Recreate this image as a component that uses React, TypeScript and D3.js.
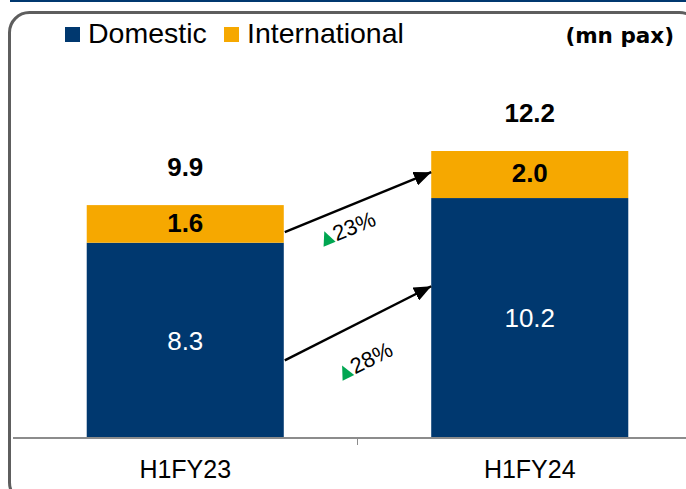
import { useEffect, useRef } from 'react';
import * as d3 from 'd3';

const periods = ['H1FY23', 'H1FY24'];
const domestic = [8.3, 10.2];
const international = [1.6, 2.0];
const totals = [9.9, 12.2];
const growthLabels = ['23%', '28%'];
// arrow ends in value units (from H1FY23 bar to H1FY24 bar)
const arrowFrom = [8.75, 3.3];
const arrowTo = [11.3, 6.45];
// growth label anchors: fraction of the gap between bars, value units
const labelAt = [0.265, 0.395];
const labelValue = [8.13, 2.43];

const W = 686;
const H = 489;
const NAVY = '#00386F';
const ORANGE = '#F6A800';

export default function App() {
  const svgRef = useRef<SVGSVGElement>(null);

  useEffect(() => {
    if (!svgRef.current) return;
    const svg = d3.select(svgRef.current);
    svg.selectAll('*').remove();

    const baseY = 438;
    const x = d3.scaleBand().domain(periods).range([13, 702]).paddingInner(0.428).paddingOuter(0.214);
    const y = d3.scaleLinear().domain([0, 12.2]).range([baseY, 151]);

    svg.append('defs')
      .append('marker')
      .attr('id', 'head')
      .attr('viewBox', '0 0 12 10')
      .attr('refX', 12)
      .attr('refY', 5)
      .attr('markerWidth', 7.2)
      .attr('markerHeight', 6)
      .attr('markerUnits', 'strokeWidth')
      .attr('orient', 'auto')
      .append('path')
      .attr('d', 'M0,0 L12,5 L0,10 Z')
      .attr('fill', '#000');

    // top rule and frame
    svg.append('rect').attr('x', 10).attr('y', 0).attr('width', W - 10).attr('height', 2).attr('fill', NAVY);
    svg.append('rect')
      .attr('x', 9.5).attr('y', 12.5)
      .attr('width', 690).attr('height', 490)
      .attr('rx', 20).attr('ry', 20)
      .attr('fill', 'none').attr('stroke', '#5E5E5E').attr('stroke-width', 3);

    // legend
    const legend = [
      { name: 'Domestic', color: NAVY, x: 65 },
      { name: 'International', color: ORANGE, x: 224 },
    ];
    const lg = svg.selectAll('.legend').data(legend).enter().append('g');
    lg.append('rect').attr('x', (d) => d.x).attr('y', 27).attr('width', 15).attr('height', 15).attr('fill', (d) => d.color);
    lg.append('text')
      .attr('x', (d) => d.x + 23)
      .attr('y', 43)
      .attr('font-family', 'Liberation Sans, Arial, sans-serif')
      .attr('font-size', 28.5)
      .attr('fill', '#000')
      .text((d) => d.name);

    svg.append('text')
      .attr('x', 674).attr('y', 43)
      .attr('text-anchor', 'end')
      .attr('font-family', 'DejaVu Sans, Verdana, sans-serif')
      .attr('font-weight', 'bold')
      .attr('font-size', 21.5)
      .text('(mn pax)');

    // bars
    const bw = x.bandwidth();
    const g = svg.append('g');
    g.selectAll('.dom').data(periods).enter().append('rect')
      .attr('x', (d) => x(d)!)
      .attr('y', (_, i) => y(domestic[i]))
      .attr('width', bw)
      .attr('height', (_, i) => baseY - y(domestic[i]))
      .attr('fill', NAVY);
    g.selectAll('.intl').data(periods).enter().append('rect')
      .attr('x', (d) => x(d)!)
      .attr('y', (_, i) => y(domestic[i] + international[i]))
      .attr('width', bw)
      .attr('height', (_, i) => y(domestic[i]) - y(domestic[i] + international[i]))
      .attr('fill', ORANGE);

    const font = 'Liberation Sans, Arial, sans-serif';
    g.selectAll('.domLbl').data(periods).enter().append('text')
      .attr('x', (d) => x(d)! + bw / 2)
      .attr('y', (_, i) => (y(domestic[i]) + baseY) / 2)
      .attr('dy', '0.36em')
      .attr('text-anchor', 'middle')
      .attr('font-family', font).attr('font-size', 26).attr('fill', '#fff')
      .text((_, i) => domestic[i].toFixed(1));
    g.selectAll('.intlLbl').data(periods).enter().append('text')
      .attr('x', (d) => x(d)! + bw / 2)
      .attr('y', (_, i) => (y(domestic[i]) + y(domestic[i] + international[i])) / 2)
      .attr('dy', '0.3em')
      .attr('text-anchor', 'middle')
      .attr('font-family', font).attr('font-size', 26).attr('font-weight', 'bold').attr('fill', '#000')
      .text((_, i) => international[i].toFixed(1));
    g.selectAll('.totLbl').data(periods).enter().append('text')
      .attr('x', (d) => x(d)! + bw / 2)
      .attr('y', (_, i) => y(totals[i]) - 29)
      .attr('text-anchor', 'middle')
      .attr('font-family', font).attr('font-size', 26).attr('font-weight', 'bold').attr('fill', '#000')
      .text((_, i) => totals[i].toFixed(1));

    // axis
    svg.append('line').attr('x1', 13).attr('x2', W).attr('y1', baseY).attr('y2', baseY)
      .attr('stroke', '#8C8C8C').attr('stroke-width', 2);
    const mid = (x(periods[0])! + bw + x(periods[1])!) / 2;
    svg.append('line').attr('x1', mid).attr('x2', mid).attr('y1', baseY).attr('y2', baseY + 7)
      .attr('stroke', '#8C8C8C').attr('stroke-width', 1);
    svg.selectAll('.cat').data(periods).enter().append('text')
      .attr('x', (d) => x(d)! + bw / 2)
      .attr('y', 478)
      .attr('text-anchor', 'middle')
      .attr('font-family', font).attr('font-size', 25).attr('fill', '#000')
      .text((d) => d);

    // growth arrows
    const x0 = x(periods[0])! + bw + 1;
    const x1 = x(periods[1])!;
    arrowFrom.forEach((v, i) => {
      const ya = y(v);
      const yb = y(arrowTo[i]);
      svg.append('line')
        .attr('x1', x0).attr('y1', ya).attr('x2', x1).attr('y2', yb)
        .attr('stroke', '#000').attr('stroke-width', 2.4)
        .attr('marker-end', 'url(#head)');
      const angle = (Math.atan2(yb - ya, x1 - x0) * 180) / Math.PI;
      const lx = x0 + (x1 - x0) * labelAt[i];
      const ly = y(labelValue[i]);
      const lab = svg.append('g').attr('transform', `translate(${lx},${ly}) rotate(${angle})`);
      lab.append('path').attr('d', 'M0,0 L13,0 L6.5,-14 Z').attr('fill', '#00A651');
      lab.append('text')
        .attr('x', 14).attr('y', 0)
        .attr('font-family', font).attr('font-size', 22).attr('fill', '#000')
        .text(growthLabels[i]);
    });
  }, []);

  return (
    <div style={{ position: 'fixed', left: 0, top: 0, width: W, height: H, background: '#fff' }}>
      <svg ref={svgRef} width={W} height={H} style={{ display: 'block' }} />
    </div>
  );
}
